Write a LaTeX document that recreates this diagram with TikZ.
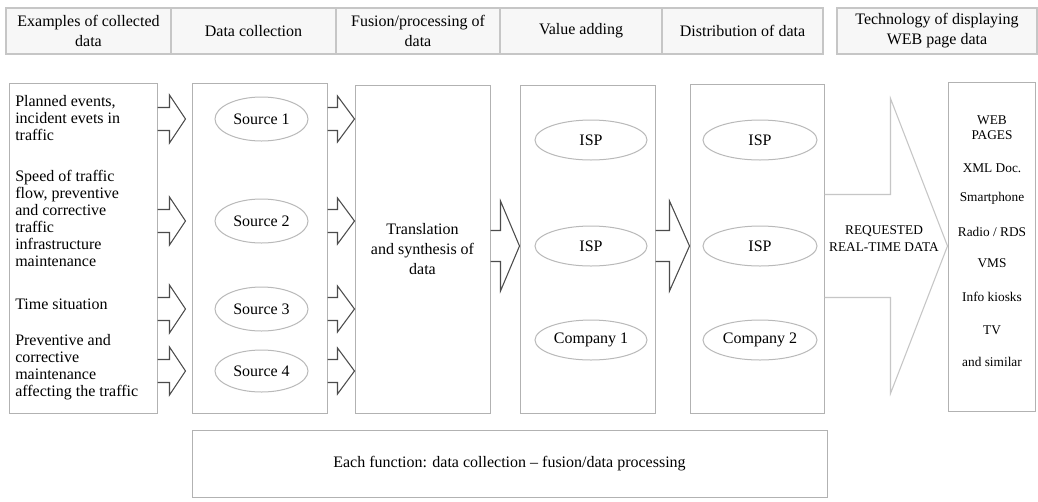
\documentclass[tikz,border=0pt]{standalone}
\usepackage{fontspec}
\setmainfont{Liberation Serif}
\usetikzlibrary{calc,shapes.geometric}

\tikzset{
  wh/.style 2 args={minimum width={#1*0.75pt},minimum height={#2*0.75pt}},
  hcell/.style={draw=gray!45,fill=gray!6,line width=0.9pt,inner sep=0pt,align=center,
    font=\fontsize{12}{15}\selectfont},
  panel/.style={draw=gray!60,line width=0.75pt,inner sep=0pt},
  oval/.style={ellipse,draw=gray!55,line width=0.75pt,inner sep=0pt,
    font=\fontsize{12}{14}\selectfont},
  item/.style={align=left,anchor=north west,inner sep=0pt,
    font=\fontsize{12}{12.8}\selectfont},
  media/.style={align=center,inner sep=0pt,font=\fontsize{10}{11.3}\selectfont},
  arrowline/.style={draw=black!70,line width=0.8pt,line join=miter},
  bigarrowline/.style={draw=gray!45,line width=0.8pt,line join=miter},
}

% outline block arrow, open at its back end
% #2 start, #3 tip, #4 height reference, #5 head length, #6 shaft half width, #7 head half width (px)
\newcommand\blockarrow[7][arrowline]{%
  \draw[#1] let \p1=(#2), \p2=(#3), \p3=(#4) in
    (\x1,{\y3+#6*0.75pt}) -- ({\x2-#5*0.75pt},{\y3+#6*0.75pt})
    -- ({\x2-#5*0.75pt},{\y3+#7*0.75pt}) -- (\x2,\y3)
    -- ({\x2-#5*0.75pt},{\y3-#7*0.75pt}) -- ({\x2-#5*0.75pt},{\y3-#6*0.75pt})
    -- (\x1,{\y3-#6*0.75pt});}

\begin{document}
\begin{tikzpicture}[x=0.75pt,y=-0.75pt]
\useasboundingbox[fill=white] (0,0) rectangle (1038,501);

% column headings
\node[hcell,wh={165}{46}] (h1) at (88.5,31) {Examples of collected\\data};
\node[hcell,wh={165}{46}] (h2) at (253.5,31) {Data collection};
\node[hcell,wh={164}{46}] (h3) at (418,31) {Fusion/processing of\\data};
\node[hcell,wh={162}{46}] (h4) at (581,31) {Value adding};
\node[hcell,wh={161}{46}] (h5) at (742.5,31) {Distribution of data};
\node[hcell,wh={200}{46}] (h6) at (937,31) {Technology of displaying\\WEB page data};

% column panels
\node[panel,wh={148}{330}] (ex) at (83,248) {};
\node[panel,wh={135}{330}] (coll) at (259.5,248) {};
\node[panel,wh={135}{328},align=center,font=\fontsize{12}{15}\selectfont] (fus) at (422.5,249)
  {Translation\\and synthesis of\\data};
\node[panel,wh={135}{328}] (val) at (587.5,249) {};
\node[panel,wh={134}{329}] (dist) at (757,248.5) {};
\node[panel,wh={87}{329}] (tech) at (991.5,246.5) {};
\node[panel,wh={635}{67},font=\fontsize{12}{14}\selectfont] (each) at (509.5,463.5)
  {Each function: data collection -- fusion/data processing};

% collected data examples
\node[item] (i1) at (15,95) {Planned events,\\incident evets in\\traffic};
\node[item] (i2) at (15,170) {Speed of traffic\\flow, preventive\\and corrective\\traffic\\infrastructure\\maintenance};
\node[item] (i3) at (15,299) {Time situation};
\node[item] (i4) at (15,334) {Preventive and\\corrective\\maintenance\\affecting the traffic};

% sources
\node[oval,wh={93}{44}] (s1) at (261.5,119) {Source 1};
\node[oval,wh={93}{44}] (s2) at (261.5,221) {Source 2};
\node[oval,wh={93}{44}] (s3) at (261.5,309) {Source 3};
\node[oval,wh={93}{42}] (s4) at (261.5,371) {Source 4};

% value adding and distribution actors
\node[oval,wh={112}{40}] (va1) at (591,140) {ISP};
\node[oval,wh={112}{40}] (va2) at (591,246) {ISP};
\node[oval,wh={112}{40}] (va3) at (591,340) {Company 1};
\node[oval,wh={114}{40}] (di1) at (760,140) {ISP};
\node[oval,wh={114}{40}] (di2) at (760,246) {ISP};
\node[oval,wh={114}{40}] (di3) at (760,340) {Company 2};

% display technologies
\node[media] (m1) at (992,128) {WEB\\PAGES};
\node[media] (m2) at (992,168) {XML Doc.};
\node[media] (m3) at (992,198) {Smartphone};
\node[media] (m4) at (992,232) {Radio / RDS};
\node[media] (m5) at (992,263) {VMS};
\node[media] (m6) at (992,297) {Info kiosks};
\node[media] (m7) at (992,330) {TV};
\node[media] (m8) at (992,362) {and similar};

% examples -> sources
\foreach \s in {s1,s2,s3,s4}{
  \blockarrow{ex.east}{$(coll.west)+(-6,0)$}{\s}{16}{11.5}{24}
}
% sources -> fusion
\foreach \s in {s1,s2,s3,s4}{
  \blockarrow{coll.east}{fus.west}{\s}{17}{11.5}{23}
}
% fusion -> value adding -> distribution
\blockarrow{fus.east}{val.west}{va2}{19}{15.5}{45}
\blockarrow{val.east}{dist.west}{di2}{20}{15.5}{45}
% distribution -> display technologies
\blockarrow[bigarrowline]{dist.east}{tech.west}{di2}{57}{51.5}{147.5}
\node[media,font=\fontsize{10}{12.7}\selectfont] (rq) at (884,238.5) {REQUESTED\\REAL-TIME DATA};
\end{tikzpicture}
\end{document}
